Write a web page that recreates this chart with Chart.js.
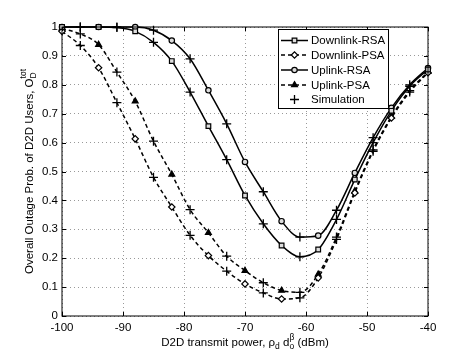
<!DOCTYPE html>
<html>
<head>
<meta charset="utf-8">
<script src="https://cdn.jsdelivr.net/npm/chart.js@4.4.1/dist/chart.umd.min.js"></script>
<style>
  html, body { margin: 0; padding: 0; background: #fff; }
  #wrap { width: 474px; height: 356px; }
</style>
</head>
<body>
<div id="wrap"><canvas id="chart" width="474" height="356"></canvas></div>
<script>
// analytic curves: markers every 6 dB, simulation crosses in between
const markerX = [-100, -94, -88, -82, -76, -70, -64, -58, -52, -46, -40];
const simX = [-97, -91, -85, -79, -73, -67, -61, -55, -49, -43];

const downRsaMarks = [1.0, 1.0, 0.985, 0.882, 0.657, 0.417, 0.244, 0.230, 0.472, 0.710, 0.853];
const downRsaSim = [1.0, 0.998, 0.947, 0.775, 0.541, 0.319, 0.205, 0.334, 0.600, 0.795];

const downPsaMarks = [0.985, 0.859, 0.613, 0.377, 0.209, 0.111, 0.059, 0.132, 0.426, 0.685, 0.842];
const downPsaSim = [0.936, 0.738, 0.480, 0.279, 0.155, 0.080, 0.063, 0.265, 0.570, 0.775];

const upRsaMarks = [1.0, 1.0, 1.0, 0.953, 0.781, 0.533, 0.328, 0.278, 0.495, 0.720, 0.858];
const upRsaSim = [1.0, 1.0, 0.989, 0.890, 0.665, 0.430, 0.273, 0.366, 0.617, 0.800];

const upPsaMarks = [0.995, 0.939, 0.743, 0.490, 0.288, 0.157, 0.088, 0.144, 0.432, 0.690, 0.845];
const upPsaSim = [0.976, 0.844, 0.605, 0.368, 0.207, 0.115, 0.082, 0.273, 0.575, 0.780];

const xTicks = [-100, -90, -80, -70, -60, -50, -40];
const yTicks = [0, 0.1, 0.2, 0.3, 0.4, 0.5, 0.6, 0.7, 0.8, 0.9, 1];

const FONT = '"Liberation Sans", Arial, sans-serif';
Chart.defaults.font.family = FONT;
Chart.defaults.font.size = 11.5;
Chart.defaults.color = '#000';

// merge marker and simulation values into one curve
function curve(marks, sims) {
    const pts = markerX.map((x, i) => ({ x: x, y: marks[i], mark: true }))
        .concat(simX.map((x, i) => ({ x: x, y: sims[i], mark: false })));
    return pts.sort((a, b) => a.x - b.x);
}

function lineSet(label, marks, sims, style, radius, dashed, fill) {
    return {
        label: label,
        data: curve(marks, sims),
        borderColor: '#000',
        borderWidth: 1.5,
        borderDash: dashed ? [4, 3] : [],
        cubicInterpolationMode: 'monotone',
        pointStyle: style,
        pointRadius: ctx => (ctx.raw && ctx.raw.mark ? radius : 0),
        pointHoverRadius: 0,
        pointBorderWidth: 1.2,
        pointBorderColor: '#000',
        pointBackgroundColor: fill,
        clip: false
    };
}

const simPoints = [];
[downRsaSim, downPsaSim, upRsaSim, upPsaSim].forEach(arr => {
    arr.forEach((v, i) => simPoints.push({ x: simX[i], y: v }));
});

const datasets = [
    lineSet('Downlink-RSA', downRsaMarks, downRsaSim, 'rect', 3.3, false, '#ddd'),
    lineSet('Downlink-PSA', downPsaMarks, downPsaSim, 'rectRot', 3.2, true, '#fff'),
    lineSet('Uplink-RSA', upRsaMarks, upRsaSim, 'circle', 2.7, false, '#ddd'),
    lineSet('Uplink-PSA', upPsaMarks, upPsaSim, 'triangle', 3.4, true, '#000'),
    {
        label: 'Simulation',
        data: simPoints,
        showLine: false,
        pointStyle: 'cross',
        pointRadius: 4.5,
        pointHoverRadius: 0,
        pointBorderWidth: 1.3,
        borderColor: '#000',
        pointBorderColor: '#000',
        clip: false
    }
];

// box, inward ticks, legend, axis titles
const decor = {
    id: 'decor',
    afterDatasetsDraw(chart) {
        const ctx = chart.ctx;
        const a = chart.chartArea;
        const xs = chart.scales.x, ys = chart.scales.y;
        ctx.save();
        ctx.strokeStyle = '#000';
        ctx.lineWidth = 1;
        ctx.strokeRect(a.left, a.top, a.right - a.left, a.bottom - a.top);
        ctx.beginPath();
        xTicks.forEach(v => {
            const px = Math.round(xs.getPixelForValue(v)) + 0.5;
            ctx.moveTo(px, a.bottom); ctx.lineTo(px, a.bottom - 4);
            ctx.moveTo(px, a.top); ctx.lineTo(px, a.top + 4);
        });
        yTicks.forEach(v => {
            const py = Math.round(ys.getPixelForValue(v)) + 0.5;
            ctx.moveTo(a.left, py); ctx.lineTo(a.left + 4, py);
            ctx.moveTo(a.right, py); ctx.lineTo(a.right - 4, py);
        });
        ctx.stroke();

        // legend
        const lx = 278.5, ly = 29.5, lw = 110, lh = 79;
        ctx.fillStyle = '#fff';
        ctx.fillRect(lx, ly, lw, lh);
        ctx.strokeRect(lx, ly, lw, lh);
        const rows = [40.5, 55, 70, 85, 99.5];
        ctx.font = '11.5px ' + FONT;
        ctx.textBaseline = 'middle';
        chart.data.datasets.forEach((ds, i) => {
            const y = rows[i];
            if (ds.showLine !== false) {
                ctx.beginPath();
                ctx.setLineDash(ds.borderDash);
                ctx.lineWidth = 1.5;
                ctx.moveTo(281, y); ctx.lineTo(308, y);
                ctx.stroke();
                ctx.setLineDash([]);
            }
            const r = typeof ds.pointRadius === 'function' ? ds.pointRadius({ raw: { mark: true } }) : ds.pointRadius;
            ctx.fillStyle = ds.pointBackgroundColor || '#000';
            ctx.strokeStyle = '#000';
            ctx.lineWidth = ds.pointBorderWidth;
            Chart.helpers.drawPoint(ctx, { pointStyle: ds.pointStyle, radius: r, rotation: 0, borderWidth: ds.pointBorderWidth }, 294.5, y);
            ctx.fillStyle = '#000';
            ctx.fillText(ds.label, 311, y + 0.5);
        });

        // x title with sub/superscripts
        const big = '11.5px ' + FONT, small = '8.5px ' + FONT;
        const parts = [
            { t: 'D2D transmit power, \u03c1', f: big, dy: 0 },
            { t: 'd', f: small, dy: 3 },
            { t: ' d', f: big, dy: 0 },
            { t: 'o', f: small, dy: 3, stackNext: true },
            { t: '\u03b2', f: small, dy: -6 },
            { t: ' (dBm)', f: big, dy: 0 }
        ];
        function widthOf(list) {
            let w = 0;
            for (let i = 0; i < list.length; i++) {
                ctx.font = list[i].f;
                const wi = ctx.measureText(list[i].t).width;
                if (list[i].stackNext) {
                    ctx.font = list[i + 1].f;
                    w += Math.max(wi, ctx.measureText(list[i + 1].t).width);
                    i++;
                } else w += wi;
            }
            return w;
        }
        function drawParts(list, x0, base) {
            let x = x0;
            ctx.textAlign = 'left';
            ctx.textBaseline = 'alphabetic';
            for (let i = 0; i < list.length; i++) {
                const p = list[i];
                ctx.font = p.f;
                ctx.fillText(p.t, x, base + p.dy);
                let wi = ctx.measureText(p.t).width;
                if (p.stackNext) {
                    const q = list[i + 1];
                    ctx.font = q.f;
                    ctx.fillText(q.t, x, base + q.dy);
                    wi = Math.max(wi, ctx.measureText(q.t).width);
                    i++;
                }
                x += wi;
            }
        }
        ctx.fillStyle = '#000';
        const cx = (a.left + a.right) / 2;
        drawParts(parts, cx - widthOf(parts) / 2, 346);

        // y title, rotated
        const yparts = [
            { t: 'Overall Outage Prob. of D2D Users, O', f: big, dy: 0 },
            { t: 'D', f: small, dy: 3, stackNext: true },
            { t: 'tot', f: small, dy: -7 }
        ];
        ctx.save();
        ctx.translate(33, (a.top + a.bottom) / 2);
        ctx.rotate(-Math.PI / 2);
        drawParts(yparts, -widthOf(yparts) / 2, 0);
        ctx.restore();
        ctx.restore();
    }
};

new Chart(document.getElementById('chart'), {
    type: 'line',
    data: { datasets: datasets },
    options: {
        responsive: false,
        animation: false,
        events: [],
        layout: { padding: { left: 0, top: 27, right: 46, bottom: 0 } },
        plugins: { legend: { display: false }, tooltip: { enabled: false } },
        scales: {
            x: {
                type: 'linear',
                min: -100,
                max: -40,
                afterBuildTicks: s => { s.ticks = xTicks.map(v => ({ value: v })); },
                afterFit: s => { s.height = 40; },
                grid: { color: 'rgba(0,0,0,0.4)', lineWidth: 1, drawTicks: false },
                border: { display: false, dash: [1, 3] },
                ticks: { padding: 5, maxRotation: 0, autoSkip: false, callback: v => String(v) }
            },
            y: {
                min: 0,
                max: 1,
                afterBuildTicks: s => { s.ticks = yTicks.map(v => ({ value: v })); },
                afterFit: s => { s.width = 62; },
                grid: { color: 'rgba(0,0,0,0.4)', lineWidth: 1, drawTicks: false },
                border: { display: false, dash: [1, 3] },
                ticks: { padding: 4, autoSkip: false, callback: v => String(Math.round(v * 10) / 10) }
            }
        }
    },
    plugins: [decor]
});
</script>
</body>
</html>
